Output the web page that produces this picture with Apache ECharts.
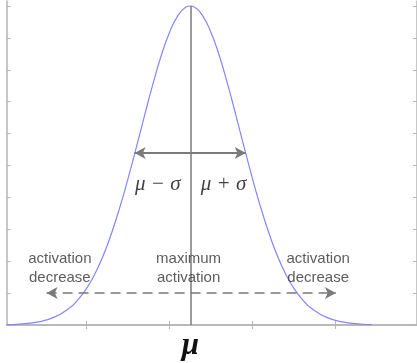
<!DOCTYPE html>
<html><head><meta charset="utf-8">
<script src="https://cdn.jsdelivr.net/npm/echarts@6/dist/echarts.min.js"></script>
<style>html,body{margin:0;padding:0;background:#fff}#c{width:417px;height:363px}</style>
</head><body><div id="c"></div>
<script>
// curve (x in tick units, y relative to peak)
const curveX = [0.04,0.2,0.4,0.6,0.8,0.9,1.0,1.1,1.2,1.3,1.4,1.5,1.6,1.7,1.8,1.9,2.0,2.1,2.2,2.25,2.3,2.4,2.5,2.6,2.7,2.8,2.9,3.0,3.1,3.2,3.3,3.4,3.5,3.6,3.7,3.9,4.1,4.3,4.44];
const curveY = [0.001,0.003,0.009,0.023,0.054,0.080,0.114,0.159,0.216,0.286,0.367,0.458,0.556,0.657,0.755,0.844,0.917,0.969,0.997,1.0,0.997,0.969,0.917,0.844,0.755,0.657,0.556,0.458,0.367,0.286,0.216,0.159,0.114,0.080,0.054,0.023,0.009,0.003,0.001];
const mu = 2.25;
const peak = 1.0;
const xTicks = [1,2,3,4];
const yTicks = [0,0.1,0.2,0.3,0.4,0.5,0.6,0.7,0.8,0.9,1.0];
const sigmaArrow = {x1:1.58, x2:2.918, y:0.539};
const spreadArrow = {x1:0.52, x2:4.004, y:0.1};
const textNames = ['activation\ndecrease','maximum\nactivation','activation\ndecrease'];
const textX = [0.68, 2.23, 3.79];
const textY = [0.179, 0.179, 0.179];
const sigmaNames = ['\u03BC \u2212 \u03C3','\u03BC + \u03C3'];
const sigmaX = [1.86, 2.65];
const sigmaY = [0.44, 0.44];
const axisLabelText = '\u03BC';

const axisColor = '#b5b5b5';
const chart = echarts.init(document.getElementById('c'), null, {renderer:'canvas'});
const baseX = {
  type:'value', min:0.04, max:4.98,
  axisLine:{show:true, lineStyle:{color:axisColor, width:1.5}},
  axisTick:{show:true, inside:true, length:4, customValues:xTicks, lineStyle:{color:axisColor}},
  splitLine:{show:false}
};
const baseY = {
  type:'value', min:0, max:1.0157,
  axisLine:{show:true, lineStyle:{color:axisColor, width:1.5}},
  axisTick:{show:true, inside:true, length:4, customValues:yTicks, lineStyle:{color:axisColor}},
  axisLabel:{show:false},
  splitLine:{show:false}
};
chart.setOption({
  animation:false,
  grid:{left:6.7, right:-1.2, top:1, bottom:38, containLabel:false},
  xAxis:[
    Object.assign({}, baseX, {position:'bottom',
      axisLabel:{show:true, customValues:[mu], formatter:()=>axisLabelText, margin:5,
        fontSize:31, fontStyle:'italic', fontWeight:'bold', fontFamily:'Liberation Serif', color:'#111'}}),
    Object.assign({}, baseX, {position:'top', axisLabel:{show:false}})
  ],
  yAxis:[
    Object.assign({}, baseY, {position:'left'}),
    Object.assign({}, baseY, {position:'right'})
  ],
  series:[
    {type:'line', xAxisIndex:0, yAxisIndex:0, data:curveX.map((x,i)=>[x,curveY[i]]), smooth:true,
     showSymbol:false, lineStyle:{color:'#8585ff', width:1.2}, z:3,
     markLine:{silent:true, symbol:['none','none'], label:{show:false},
       lineStyle:{color:'#7a7a7a', width:1.5, type:'solid'},
       data:[[{coord:[mu,0]},{coord:[mu,peak]}]]}},
    {type:'line', data:[], markLine:{silent:true, symbol:['arrow','arrow'], symbolSize:[9,11], label:{show:false},
       lineStyle:{color:'#7a7a7a', width:1.8, type:'solid'},
       data:[[{coord:[sigmaArrow.x1,sigmaArrow.y]},{coord:[sigmaArrow.x2,sigmaArrow.y]}]]}},
    {type:'line', data:[], markLine:{silent:true, symbol:['arrow','arrow'], symbolSize:[9,11], label:{show:false},
       lineStyle:{color:'#7a7a7a', width:1.5, type:[10,6]},
       data:[[{coord:[spreadArrow.x1,spreadArrow.y]},{coord:[spreadArrow.x2,spreadArrow.y]}]]}},
    {type:'scatter', symbolSize:0, z:5, data:textX.map((x,i)=>({value:[x,textY[i]], name:textNames[i]})),
     label:{show:true, position:'inside', formatter:p=>p.name, fontSize:15, lineHeight:19,
       fontFamily:'Liberation Sans', color:'#333', align:'center', verticalAlign:'middle'}},
    {type:'scatter', symbolSize:0, z:5, data:sigmaX.map((x,i)=>({value:[x,sigmaY[i]], name:sigmaNames[i]})),
     label:{show:true, position:'inside', formatter:p=>p.name, fontSize:21,
       fontFamily:'Liberation Serif', fontStyle:'italic', color:'#111', align:'center', verticalAlign:'middle'}}
  ]
});
</script></body></html>
